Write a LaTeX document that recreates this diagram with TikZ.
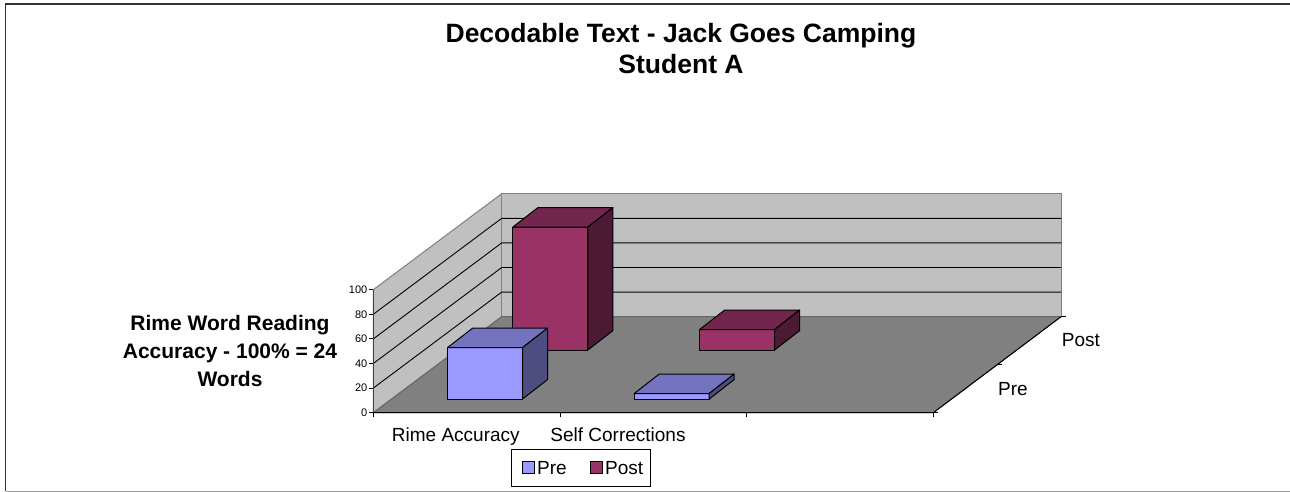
\documentclass[tikz,border=0pt]{standalone}
\usepackage{fontspec}
\setmainfont{Liberation Sans}
\usepackage{tikz}
\usetikzlibrary{calc}
\definecolor{periwinkle}{RGB}{153, 153, 255}
\definecolor{periwinkletop}{RGB}{115, 115, 191}
\definecolor{periwinkleside}{RGB}{77, 77, 128}
\definecolor{plum}{RGB}{153, 51, 102}
\definecolor{plumtop}{RGB}{115, 38, 77}
\definecolor{plumside}{RGB}{77, 26, 51}
\definecolor{wallgray}{RGB}{192, 192, 192}
\definecolor{floorgray}{RGB}{128, 128, 128}

\tikzset{
    barline/.style={draw=black, line width=1pt, line join=round},
    wall/.style={fill=wallgray, draw=floorgray, line width=1pt},
    gridline/.style={black, line width=0.9pt},
    axisline/.style={black, line width=1pt},
    ticklabel/.style={anchor=east, inner sep=0pt, font=\fontsize{11}{13}\selectfont},
    catlabel/.style={anchor=base, inner sep=0pt, font=\fontsize{19}{23}\selectfont},
    serieslabel/.style={anchor=base west, inner sep=0pt, font=\fontsize{19}{23}\selectfont},
    swatch/.style={draw=black, line width=1pt, minimum size=12pt, inner sep=0pt},
}

% bar: front bottom left x, y, height, face / top / side colours
\newcommand{\chartbar}[6]{
    \filldraw[barline, fill=#4] (#1,#2) rectangle ++(75,-#3);
    \filldraw[barline, fill=#5] (#1,#2-#3) -- ++(25,-19.4) -- ++(75,0) -- ++(-25,19.4) -- cycle;
    \filldraw[barline, fill=#6] (#1+75,#2) -- ++(25,-19.4) -- ++(0,-#3) -- ++(-25,19.4) -- cycle;
}

\begin{document}
\begin{tikzpicture}[x=1pt, y=-1pt]
    \useasboundingbox (0,0) rectangle (1290,492);
    \fill[white] (0,0) rectangle (1290,492);
    % chart area frame
    \draw[line width=1.5pt, black!80] (1290,4) -- (5.5,4) -- (5.5,491);
    \draw[line width=1pt, black!40] (5.5,491) -- (1290,491);

    \node[anchor=base, inner sep=0pt, font=\fontsize{26.5}{31}\selectfont\bfseries] (title) at (681,43) {Decodable Text - Jack Goes Camping};
    \node[anchor=base, inner sep=0pt, font=\fontsize{26.5}{31}\selectfont\bfseries] (subtitle) at (681,73.3) {Student A};

    % side wall, back wall, floor
    \filldraw[wall]                         (373.3,412.7) -- (501.7,316.7) -- (501.7,193.7) -- (373.3,289.7) -- cycle;
    \filldraw[wall]                         (501.7,316.7) rectangle (1061,193.7);
    \filldraw[fill=floorgray, draw=black!60, line width=1pt] (373.3,412.7) -- (501.7,316.7) -- (1061,316.7) -- (933.3,412.7) -- cycle;
    \foreach \i in {1,...,4}
        \draw[gridline] (373.3,412.7-24.6*\i) -- (501.7,316.7-24.6*\i) -- (1061,316.7-24.6*\i);

    % value axis
    \draw[line width=1.5pt, black!75] (373.3,412.7) -- (373.3,289.7);
    \foreach \v [count=\k from 0] in {0,20,...,100} {
        \draw[axisline] (369,412.7-24.6*\k) -- (373.3,412.7-24.6*\k);
        \node[ticklabel] (tick\v) at (367.5,412.7-24.6*\k) {\v};
    }

    % category and series axes
    \draw[axisline] (373.3,412.7) -- (933.3,412.7) -- (1061,316.7);
    \foreach \x in {373.3,560,746.7,933.3}
        \draw[axisline] (\x,412.7) -- (\x,417);
    \draw[axisline] (933.3,412.7) -- ++(5,0);
    \draw[axisline] (997.2,364.7) -- ++(5,0);
    \draw[axisline] (1061,316.7) -- ++(5,0);

    % back row first, then front row
    \chartbar{512.9}{350}{123}{plum}{plumtop}{plumside}
    \chartbar{699.6}{350}{20.5}{plum}{plumtop}{plumside}
    \chartbar{447.5}{399}{51.4}{periwinkle}{periwinkletop}{periwinkleside}
    \chartbar{634.2}{399}{5.5}{periwinkle}{periwinkletop}{periwinkleside}

    \node[catlabel] (rime) at (455.8,441.7) {Rime Accuracy};
    \node[catlabel] (selfcorr) at (618,441.7) {Self Corrections};
    \node[serieslabel] (postlabel) at (1061.7,346) {Post};
    \node[serieslabel] (prelabel) at (998,395) {Pre};

    \node[align=center, inner sep=0pt, font=\fontsize{21}{27.7}\selectfont\bfseries] (ytitle) at (230,351)
        {Rime Word Reading\\Accuracy - 100\% = 24\\Words};

    % legend
    \draw[line width=1pt] (511,449.3) rectangle (650.7,486.7);
    \node[swatch, fill=periwinkle] (preswatch) at (528.7,467) {};
    \node[serieslabel] (prekey) at (537,474) {Pre};
    \node[swatch, fill=plum] (postswatch) at (596.7,467) {};
    \node[serieslabel] (postkey) at (605,474) {Post};
\end{tikzpicture}
\end{document}
